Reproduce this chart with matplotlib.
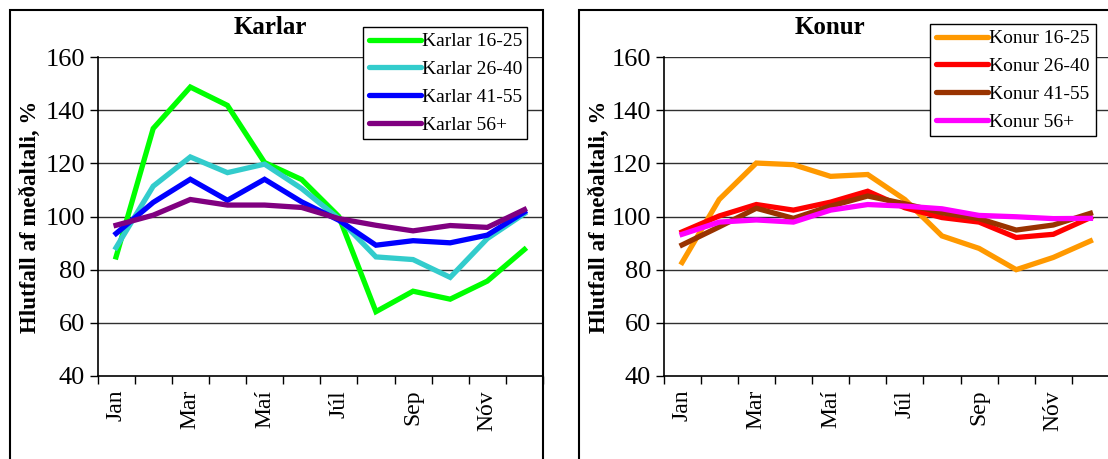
import numpy as np
import matplotlib.pyplot as plt
from matplotlib.patches import Rectangle

plt.rcParams['font.family'] = ['Liberation Serif', 'DejaVu Serif']

# Data
months = ['Jan', 'Feb', 'Mar', 'Apr', 'Maí', 'Jún', 'Júl', 'Ágú', 'Sep', 'Okt', 'Nóv', 'Des']

karlar_labels = ['Karlar 16-25', 'Karlar 26-40', 'Karlar 41-55', 'Karlar 56+']
karlar_16_25 = [84.8, 133.1, 148.7, 141.8, 120.3, 113.9, 100.0, 64.2, 71.9, 68.9, 75.7, 87.6]
karlar_26_40 = [88.3, 111.4, 122.4, 116.5, 119.7, 110.5, 99.2, 84.8, 83.8, 77.1, 91.7, 101.1]
karlar_41_55 = [93.6, 105.3, 114.0, 106.1, 114.0, 105.5, 98.6, 89.2, 90.9, 90.1, 93.0, 101.7]
karlar_56 = [96.7, 100.5, 106.4, 104.3, 104.3, 103.4, 99.2, 96.7, 94.6, 96.6, 95.9, 102.6]

konur_labels = ['Konur 16-25', 'Konur 26-40', 'Konur 41-55', 'Konur 56+']
konur_16_25 = [82.7, 106.4, 120.1, 119.5, 115.1, 115.8, 106.4, 92.7, 88.0, 80.0, 84.6, 90.8]
konur_26_40 = [94.2, 100.2, 104.5, 102.4, 105.4, 109.5, 103.3, 99.6, 97.9, 92.1, 93.3, 99.6]
konur_41_55 = [89.3, 96.1, 103.1, 99.3, 103.9, 107.7, 104.8, 101.4, 99.2, 94.9, 96.8, 101.2]
konur_56 = [93.3, 97.9, 98.7, 97.9, 102.4, 104.5, 103.9, 102.9, 100.4, 99.9, 99.2, 99.3]

karlar_colors = ['#00ff00', '#33cccc', '#0000ff', '#800080']
konur_colors = ['#ff9900', '#ff0000', '#993300', '#ff00ff']

W, H = 1108, 459
fig = plt.figure(figsize=(11.08, 4.59), dpi=100)

# panel frames (cropped at right and bottom like the original)
fig.patches.append(Rectangle((10 / W, -0.1), (543 - 10) / W, 1.1 - 10 / H,
                             transform=fig.transFigure, fill=False, edgecolor='black',
                             linewidth=1.5, clip_on=False))
fig.patches.append(Rectangle((579 / W, -0.1), 0.6, 1.1 - 10 / H,
                             transform=fig.transFigure, fill=False, edgecolor='black',
                             linewidth=1.5, clip_on=False))


def panel(rect, title, title_x, label_x, series, labels, colors, leg_rect):
    ax = fig.add_axes(rect)
    x = np.arange(len(months))
    for s, lab, c in zip(series, labels, colors):
        ax.plot(x, s, color=c, linewidth=3.8, label=lab, solid_joinstyle='miter')
    ax.set_xlim(-0.5, 11.5)
    ax.set_ylim(40, 160)
    ax.set_yticks(range(40, 161, 20))
    for v in range(60, 161, 20):
        ax.axhline(v, color='#303030', linewidth=1.0, zorder=0)
    ax.set_xticks(np.arange(-0.5, 12, 1))
    ax.set_xticklabels([])
    ax.set_xticks(x[::2], minor=True)
    ax.set_xticklabels(months[::2], minor=True, rotation=90, fontsize=17)
    ax.tick_params(axis='x', which='major', direction='out', length=6, width=1)
    ax.tick_params(axis='x', which='minor', length=0, pad=10)
    ax.tick_params(axis='y', direction='out', length=6, width=1, labelsize=19, pad=3)
    for sp in ['top', 'right']:
        ax.spines[sp].set_visible(False)
    ax.spines['left'].set_linewidth(1.2)
    ax.spines['bottom'].set_linewidth(1.2)
    ax.set_ylabel('Hlutfall af meðaltali, %', fontsize=16.5, fontweight='bold')
    ax.yaxis.set_label_coords(label_x, 0.5)
    fig.text(title_x / W, 1 - 27 / H, title, fontsize=18, fontweight='bold',
             ha='center', va='center')
    leg = fig.legend(*ax.get_legend_handles_labels(), loc='upper left',
                     bbox_to_anchor=leg_rect, mode='expand', fontsize=14,
                     frameon=True, fancybox=False, edgecolor='black', framealpha=1,
                     handlelength=2.7, handletextpad=0.05, borderaxespad=0,
                     labelspacing=0.52, borderpad=0.3)
    leg.get_frame().set_linewidth(1.0)
    for ln in leg.get_lines():
        ln.set_solid_capstyle('round')
    return ax


b = 1 - 376 / H
h = (376 - 57) / H
panel([97.5 / W, b, 445.5 / W, h], 'Karlar', 270, -0.126,
      [karlar_16_25, karlar_26_40, karlar_41_55, karlar_56], karlar_labels, karlar_colors,
      (363 / W, 1 - 27 / H, 164 / W, 0))
panel([663.5 / W, b, 445.5 / W, h], 'Konur', 830, -0.121,
      [konur_16_25, konur_26_40, konur_41_55, konur_56], konur_labels, konur_colors,
      (930 / W, 1 - 24 / H, 166 / W, 0))

fig.savefig('out.png', dpi=100)
